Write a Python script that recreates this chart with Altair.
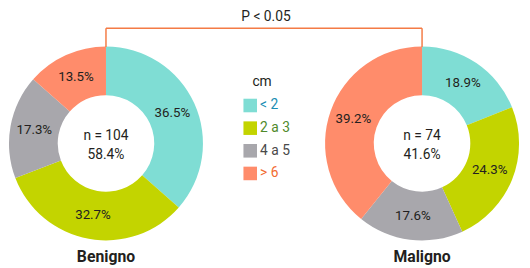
import altair as alt
import pandas as pd

categories = ["< 2", "2 a 3", "4 a 5", "> 6"]
groups = ["Benigno", "Maligno"]
benigno = [36.5, 32.7, 17.3, 13.5]
maligno = [18.9, 24.3, 17.6, 39.2]
group_n = ["n = 104", "n = 74"]
group_share = ["58.4%", "41.6%"]
legend_title = "cm"
p_text = "P < 0.05"

slice_colors = ["#7fddd4", "#c3d400", "#a8a7ac", "#ff8c6b"]
label_colors = ["#1b8db3", "#4f8a2b", "#4a4a4a", "#f26a30"]
ink = "#231f20"
font = "Roboto"

rows = []
for g, vals in zip(groups, [benigno, maligno]):
    for i, (c, v) in enumerate(zip(categories, vals)):
        rows.append({"group": g, "cat": c, "order": i, "value": v, "label": f"{v:.1f}%"})
df = pd.DataFrame(rows)

centers = pd.DataFrame({"group": groups, "n": group_n, "share": group_share})
legend_df = pd.DataFrame({"cat": categories})
bracket = pd.DataFrame({"from": [groups[0]], "to": [groups[1]]})

CY = 135.5
xscale = alt.Scale(type="point", domain=groups, range=[99.5, 420.5], padding=0)
X = alt.X("group:N", scale=xscale, axis=None)
theta_scale = alt.Scale(domain=[0, 100])

base = alt.Chart(df).transform_stack(
    stack="value", groupby=["group"], as_=["v0", "v1"],
    sort=[alt.SortField("order", order="ascending")]
).transform_calculate(mid="(datum.v0 + datum.v1) / 2")

arcs = base.mark_arc(innerRadius=49, outerRadius=98.5).encode(
    x=X,
    y=alt.value(CY),
    theta=alt.Theta("v0:Q", scale=theta_scale),
    theta2="v1:Q",
    color=alt.Color("cat:N", scale=alt.Scale(domain=categories, range=slice_colors), legend=None),
)

pct = base.mark_text(fontSize=13.5, font=font, color=ink).encode(
    x=X,
    y=alt.value(CY),
    theta=alt.Theta("mid:Q", scale=theta_scale),
    radius=alt.value(74),
    text="label:N",
)

cbase = alt.Chart(centers)
n_text = cbase.mark_text(fontSize=14, font=font, color=ink).encode(x=X, y=alt.value(128.5), text="n:N")
s_text = cbase.mark_text(fontSize=14, font=font, color=ink).encode(x=X, y=alt.value(147), text="share:N")
g_text = cbase.mark_text(fontSize=16, font=font, fontWeight="bold", color=ink).encode(
    x=X, y=alt.value(250.5), text="group:N")

bline = alt.Chart(bracket).mark_rule(color="#f47b45", strokeWidth=1.5).encode(
    x=alt.X("from:N", scale=xscale, axis=None), x2="to:N", y=alt.value(18.5))
bvert = cbase.mark_rule(color="#f47b45", strokeWidth=1.5).encode(
    x=X, y=alt.value(18.5), y2=alt.value(37.5))
ptxt = alt.Chart(pd.DataFrame({"t": [p_text]})).mark_text(fontSize=14, font=font, color=ink).encode(
    x=alt.value(262), y=alt.value(7), text="t:N")

lscale = alt.Scale(type="point", domain=categories, range=[97, 166], padding=0)
lbase = alt.Chart(legend_df)
lsq = lbase.mark_square(size=190, opacity=1).encode(
    x=alt.value(246),
    y=alt.Y("cat:N", scale=lscale, axis=None),
    color=alt.Color("cat:N", scale=alt.Scale(domain=categories, range=slice_colors), legend=None),
)
ltxt = lbase.mark_text(fontSize=14, font=font, align="left", baseline="middle").encode(
    x=alt.value(256),
    y=alt.Y("cat:N", scale=lscale, axis=None),
    text="cat:N",
    fill=alt.Fill("cat:N", scale=alt.Scale(domain=categories, range=label_colors), legend=None),
)
ltitle = alt.Chart(pd.DataFrame({"t": [legend_title]})).mark_text(fontSize=14, font=font, color=ink).encode(
    x=alt.value(258), y=alt.value(73), text="t:N")

chart = alt.layer(arcs, pct, n_text, s_text, g_text, bline, bvert, ptxt, lsq, ltxt, ltitle).properties(
    width=522, height=260, padding=0, autosize=alt.AutoSizeParams(type="none")
).configure_view(stroke=None)

chart.save("out.html", embed_options={"renderer": "svg", "actions": False})
